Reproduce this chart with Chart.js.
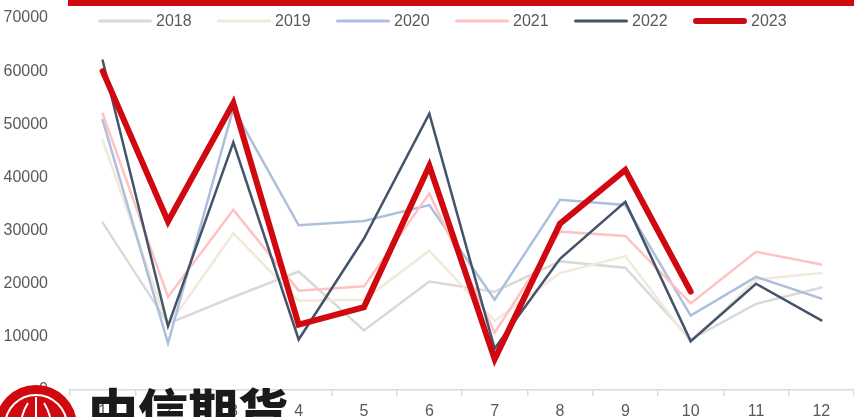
<!DOCTYPE html>
<html>
<head>
<meta charset="utf-8">
<script src="https://cdn.jsdelivr.net/npm/chart.js@4.4.0/dist/chart.umd.min.js"></script>
<style>
  html, body { margin: 0; padding: 0; background: #fff; overflow: hidden; }
  #wrap { position: relative; width: 854px; height: 417px; }
  #topbar { position: absolute; left: 68px; top: 0; width: 786px; height: 6px; background: #d0080f; }
  #legend { position: absolute; left: 0; top: 0; width: 854px; height: 40px; font-family: 'Liberation Sans', Arial, sans-serif; font-size: 16px; color: #595959; }
  .item { position: absolute; top: 11px; height: 20px; line-height: 20px; white-space: nowrap; }
  .swatch { position: absolute; left: 0; width: 54px; top: 50%; transform: translateY(-50%); border-radius: 3px; }
  .item span.txt { position: absolute; left: 58px; top: 0; }
  #logo { position: absolute; left: -5px; top: 385px; }
  #brand { position: absolute; left: 88px; top: 384px; font-family: 'Noto Sans CJK SC', sans-serif; font-weight: 900; font-size: 50px; line-height: 1; color: #1a1a1a; white-space: nowrap; }
</style>
</head>
<body>
<div id="wrap">
  <canvas id="lineChart" width="854" height="417"></canvas>
  <div id="topbar"></div>
  <div id="legend"></div>
  <svg id="logo" width="90" height="90" viewBox="0 0 90 90">
    <circle cx="41" cy="41" r="41" fill="#d0080f"/>
    <circle cx="41" cy="41" r="31" fill="none" stroke="#fff" stroke-width="2"/>
    <path d="M27 60 Q22 35 33 18 M55 60 Q60 35 49 18 M41 12 L41 70" fill="none" stroke="#fff" stroke-width="2"/>
  </svg>
  <div id="brand">中信期货</div>
</div>
<script>
/* ── Dados ── */
const months = ['1', '2', '3', '4', '5', '6', '7', '8', '9', '10', '11', '12'];
const years  = ['2018', '2019', '2020', '2021', '2022', '2023'];

const s2018 = [31500, 12500, 17500, 22300, 11200, 20400, 18500, 24200, 23000, 9500, 16200, 19300];
const s2019 = [47000, 12000, 29500, 16800, 17000, 26200, 13000, 22000, 25200, 9000, 20800, 22000];
const s2020 = [50800, 8800, 53000, 31000, 31800, 34800, 17000, 35800, 34800, 14000, 21300, 17200];
const s2021 = [52000, 17500, 33900, 18700, 19500, 37000, 10800, 29800, 29000, 16300, 26000, 23600];
const s2022 = [62000, 12000, 46600, 9500, 28500, 52000, 7800, 24700, 35400, 9200, 20000, 13100];
const s2023 = [60000, 31700, 54000, 12300, 15600, 42200, 5800, 31300, 41400, 18500];

const yTicks = [0, 10000, 20000, 30000, 40000, 50000, 60000, 70000];

/* ── Paleta ── */
const colors = ['#d9d9d9', '#f1e9da', '#adbfdc', '#ffc2c2', '#44546a', '#d0080f'];
const widths = [2.5, 2.5, 2.5, 2.5, 2.5, 6];
const series = [s2018, s2019, s2020, s2021, s2022, s2023];

const datasets = years.map((y, i) => ({
  label: y,
  data: series[i],
  borderColor: colors[i],
  backgroundColor: colors[i],
  borderWidth: widths[i],
  pointRadius: 0,
  tension: 0,
  fill: false,
  borderCapStyle: 'round',
  borderJoinStyle: 'miter',
  order: years.length - i,
}));

/* ── Legenda HTML ── */
const legend = document.getElementById('legend');
years.forEach((y, i) => {
  const it = document.createElement('div');
  it.className = 'item';
  it.style.left = (98 + i * 119) + 'px';
  const sw = document.createElement('div');
  sw.className = 'swatch';
  sw.style.background = colors[i];
  sw.style.height = (i === 5 ? 6 : 3) + 'px';
  const tx = document.createElement('span');
  tx.className = 'txt';
  tx.textContent = y;
  it.appendChild(sw);
  it.appendChild(tx);
  legend.appendChild(it);
});

Chart.defaults.font.family = "'Liberation Sans', Arial, sans-serif";
Chart.defaults.color = '#595959';

new Chart(document.getElementById('lineChart'), {
  type: 'line',
  data: { labels: months, datasets },
  options: {
    responsive: false,
    animation: false,
    layout: { padding: { top: 17, left: 0, right: 0, bottom: 0 } },
    plugins: { legend: { display: false }, tooltip: { enabled: false } },
    scales: {
      x: {
        offset: true,
        grid: { offset: true, drawOnChartArea: false, drawTicks: true, tickLength: 6, color: '#d9d9d9', lineWidth: 1.5 },
        border: { display: true, color: '#d9d9d9', width: 1.5 },
        ticks: { font: { size: 16 }, color: '#595959', padding: 6, maxRotation: 0 },
        afterFit: s => { s.height = 27; },
      },
      y: {
        min: 0,
        max: 70000,
        afterBuildTicks: s => { s.ticks = yTicks.map(v => ({ value: v })); },
        grid: { display: false },
        border: { display: false },
        ticks: { font: { size: 16, lineHeight: 0.5 }, color: '#595959', padding: 14, callback: v => String(v) },
        afterFit: s => { s.width = 70; },
      }
    }
  }
});
</script>
</body>
</html>
